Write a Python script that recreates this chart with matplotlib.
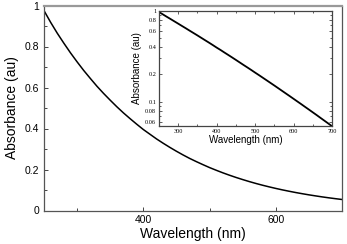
import matplotlib
matplotlib.use("Agg")
import matplotlib.pyplot as plt
from matplotlib.ticker import FixedLocator, NullFormatter, MultipleLocator, FuncFormatter

wavelength = [250, 260, 270, 280, 290, 300, 310, 320, 330, 340,
              350, 360, 370, 380, 390, 400, 410, 420, 430, 440,
              450, 460, 470, 480, 490, 500, 510, 520, 530, 540,
              550, 560, 570, 580, 590, 600, 610, 620, 630, 640,
              650, 660, 670, 680, 690, 700]
absorbance = [0.975, 0.918, 0.865, 0.816, 0.769, 0.725, 0.683, 0.644, 0.606, 0.571,
              0.538, 0.506, 0.476, 0.448, 0.421, 0.395, 0.372, 0.349, 0.328, 0.308,
              0.289, 0.271, 0.254, 0.2385, 0.2237, 0.2094, 0.1964, 0.1839, 0.1722, 0.1612,
              0.1509, 0.1411, 0.1319, 0.1233, 0.1153, 0.1077, 0.1006, 0.0940, 0.0877, 0.0819,
              0.0764, 0.0713, 0.0664, 0.0619, 0.0577, 0.0537]

main_xticks = [400, 600]
main_yticks = [0, 0.2, 0.4, 0.6, 0.8, 1.0]
inset_xticks = [300, 400, 500, 600, 700]
inset_yticks = [0.06, 0.08, 0.1, 0.2, 0.4, 0.6, 0.8, 1.0]

plt.rcParams['font.family'] = ['Liberation Sans', 'DejaVu Sans']

fig = plt.figure(figsize=(3.47, 2.44), dpi=100)
ax = fig.add_axes([44/347, 1-210.5/244, 298/347, 205/244])
ax.plot(wavelength, absorbance, color='black', lw=1.1)
ax.set_xlim(250, 700)
ax.set_ylim(0, 1)
ax.xaxis.set_major_locator(FixedLocator(main_xticks))
ax.xaxis.set_minor_locator(MultipleLocator(100))
ax.yaxis.set_major_locator(FixedLocator(main_yticks))
ax.yaxis.set_minor_locator(MultipleLocator(0.1))
ax.yaxis.set_major_formatter(FuncFormatter(lambda v, p: '%g' % v))
ax.tick_params(which='both', direction='in', labelsize=7.5, length=3, width=0.7, color='#444')
ax.tick_params(which='minor', length=2)
for s in ax.spines.values():
    s.set_color('#555')
    s.set_linewidth(0.9)
ax.spines['top'].set_color('#999')
ax.spines['top'].set_linewidth(1.6)
ax.set_xlabel('Wavelength (nm)', fontsize=10, labelpad=1)
ax.set_ylabel('Absorbance (au)', fontsize=10, labelpad=4)

ins = fig.add_axes([159/347, 1-126/244, 173/347, 115/244])
ins.plot(wavelength, absorbance, color='black', lw=1.3)
ins.set_yscale('log')
ins.set_xlim(250, 700)
ins.set_ylim(0.054, 1.0)
ins.xaxis.set_major_locator(FixedLocator(inset_xticks))
ins.xaxis.set_minor_locator(MultipleLocator(50))
ins.yaxis.set_major_locator(FixedLocator(inset_yticks))
ins.yaxis.set_major_formatter(FuncFormatter(lambda v, p: '%g' % v))
ins.yaxis.set_minor_formatter(NullFormatter())
ins.tick_params(which='both', direction='in', top=True, right=True, labelsize=4.5,
                length=2.5, width=0.6, color='#444', pad=2)
ins.tick_params(which='minor', length=1.5)
for lab in ins.get_xticklabels() + ins.get_yticklabels():
    lab.set_family(['Liberation Serif', 'DejaVu Serif'])
for s in ins.spines.values():
    s.set_color('#444')
    s.set_linewidth(0.9)
ins.set_xlabel('Wavelength (nm)', fontsize=7, labelpad=1)
ins.set_ylabel('Absorbance (au)', fontsize=7, labelpad=2)

fig.savefig('out.png', dpi=100)
